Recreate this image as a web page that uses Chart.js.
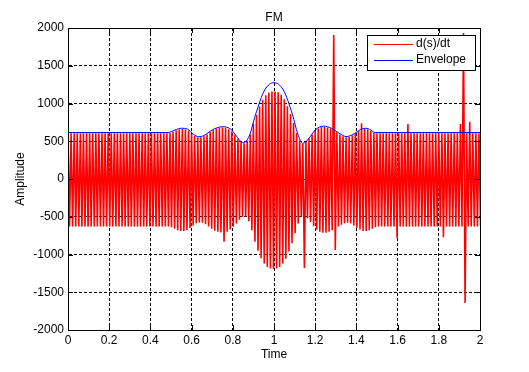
<!DOCTYPE html>
<html>
<head>
<meta charset="utf-8">
<title>FM</title>
<script src="https://cdn.jsdelivr.net/npm/chart.js@4.4.0/dist/chart.umd.min.js"></script>
<style>
  html, body { margin: 0; padding: 0; background: #fff; }
  canvas { display: block; }
</style>
</head>
<body>
<canvas id="fmChart" width="529" height="372"></canvas>
<script>
// --- data ---
// upper peaks of d(s)/dt at t = k*peakStep, lower peaks half a step later
const peakStep = 0.015;
const redTop = [
  605, 605, 605, 605, 605, 605, 605, 605, 605, 605,
  605, 605, 605, 605, 605, 605, 605, 605, 605, 605,
  605, 605, 605, 605, 605, 605, 605, 605, 605, 605,
  605, 605, 605, 610, 625, 645, 658, 662, 655, 640,
  600, 570, 552, 552, 565, 590, 625, 650, 670, 680,
  683, 678, 660, 630, 585, 535, 485, 472, 505, 590,
  730, 850, 960, 1050, 1110, 1145, 1160, 1160, 1150, 1115,
  1055, 965, 860, 740, 610, 510, 462, 490, 535, 590,
  640, 670, 687, 690, 682, 668, 1907, 620, 590, 565,
  552, 558, 580, 605, 635, 737, 662, 658, 640, 612,
  605, 605, 605, 605, 605, 605, 605, 605, 605, 605,
  728, 605, 605, 605, 605, 605, 605, 605, 605, 605,
  605, 605, 605, 605, 605, 605, 605, 728, 1935, 605,
  759, 605, 605, 605
];
const redBottom = [
  -630, -630, -630, -630, -630, -630, -630, -630, -630, -630,
  -630, -630, -630, -630, -630, -630, -630, -630, -630, -630,
  -630, -630, -630, -630, -630, -630, -630, -630, -630, -630,
  -630, -630, -630, -640, -660, -680, -690, -690, -675, -650,
  -615, -585, -575, -580, -600, -630, -660, -685, -700, -710,
  -830, -700, -670, -630, -590, -540, -500, -500, -560, -680,
  -830, -950, -1050, -1120, -1165, -1185, -1192, -1185, -1165, -1120,
  -1055, -960, -850, -720, -590, -500, -1180, -520, -570, -625,
  -670, -700, -712, -712, -700, -680, -940, -630, -605, -585,
  -578, -590, -615, -645, -670, -688, -690, -680, -660, -640,
  -630, -630, -630, -630, -630, -630, -781, -630, -630, -630,
  -630, -630, -630, -630, -630, -630, -630, -630, -630, -630,
  -630, -770, -630, -630, -630, -630, -630, -630, -1642, -630,
  -630, -630, -630, -630
];

const envTime = [0, 0.48, 0.50, 0.52, 0.55, 0.58, 0.61, 0.635, 0.66, 0.70, 0.75, 0.79, 0.82, 0.85,
  0.88, 0.91, 0.955, 1.0, 1.045, 1.09, 1.115, 1.14, 1.17, 1.20, 1.24, 1.28, 1.32, 1.35,
  1.39, 1.42, 1.445, 1.47, 1.49, 2.0];
const envValue = [615, 615, 625, 650, 672, 660, 590, 560, 575, 650, 693, 660, 560, 480,
  570, 850, 1180, 1275, 1180, 850, 600, 472, 540, 650, 700, 670, 600, 562,
  600, 655, 672, 650, 615, 615];

const xTicks = [0, 0.2, 0.4, 0.6, 0.8, 1, 1.2, 1.4, 1.6, 1.8, 2];
const yTicks = [-2000, -1500, -1000, -500, 0, 500, 1000, 1500, 2000];
const seriesNames = ["d(s)/dt", "Envelope"];

// zigzag from the peaks
const redPoints = [];
redTop.forEach((v, k) => {
  redPoints.push({ x: k * peakStep, y: v });
  redPoints.push({ x: k * peakStep + peakStep / 2, y: redBottom[k] });
});
const envPoints = envTime.map((t, i) => ({ x: t, y: envValue[i] }));

const FONT = "'Liberation Sans', Arial, sans-serif";
const plain = v => String(v);

// frame, inward ticks, title and legend in matlab style
const matlabBits = {
  id: "matlabBits",
  afterDraw(chart) {
    const { ctx, chartArea: a, scales } = chart;
    ctx.save();
    ctx.strokeStyle = "#000";
    ctx.lineWidth = 1;
    ctx.strokeRect(Math.round(a.left) + 0.5, Math.round(a.top) + 0.5,
      Math.round(a.right - a.left), Math.round(a.bottom - a.top));

    ctx.beginPath();
    xTicks.forEach(t => {
      const px = Math.round(scales.x.getPixelForValue(t)) + 0.5;
      ctx.moveTo(px, a.bottom); ctx.lineTo(px, a.bottom - 5);
      ctx.moveTo(px, a.top); ctx.lineTo(px, a.top + 5);
    });
    yTicks.forEach(t => {
      const py = Math.round(scales.y.getPixelForValue(t)) + 0.5;
      ctx.moveTo(a.left, py); ctx.lineTo(a.left + 5, py);
      ctx.moveTo(a.right, py); ctx.lineTo(a.right - 5, py);
    });
    ctx.stroke();

    // title
    ctx.fillStyle = "#000";
    ctx.font = "12px " + FONT;
    ctx.textAlign = "center";
    ctx.textBaseline = "middle";
    ctx.fillText("FM", (a.left + a.right) / 2, 18);

    // legend
    const lx = 367, ly = 35, lw = 108, lh = 35;
    ctx.fillStyle = "#fff";
    ctx.fillRect(lx, ly, lw, lh);
    ctx.strokeRect(lx + 0.5, ly + 0.5, lw, lh);
    const colors = ["#ff0000", "#0000ff"];
    seriesNames.forEach((name, i) => {
      const yy = ly + 9 + i * 16;
      ctx.strokeStyle = colors[i];
      ctx.beginPath();
      ctx.moveTo(374, yy + 0.5); ctx.lineTo(413, yy + 0.5);
      ctx.stroke();
      ctx.fillStyle = "#000";
      ctx.textAlign = "left";
      ctx.fillText(name, 416, yy);
    });
    ctx.restore();
  }
};

new Chart(document.getElementById("fmChart"), {
  type: "line",
  data: {
    datasets: [
      {
        label: seriesNames[1],
        data: envPoints,
        borderColor: "#0000ff",
        borderWidth: 1,
        pointRadius: 0,
        cubicInterpolationMode: "monotone",
        order: 0
      },
      {
        label: seriesNames[0],
        data: redPoints,
        borderColor: "#ff0000",
        borderWidth: 1.6,
        pointRadius: 0,
        // tiny tension keeps every zigzag segment (no pixel-column merging)
        tension: 0.000001,
        order: 1
      }
    ]
  },
  options: {
    responsive: false,
    animation: false,
    devicePixelRatio: 1,
    layout: { padding: { top: 28, right: 49, left: 0, bottom: 0 } },
    plugins: {
      legend: { display: false },
      title: { display: false },
      tooltip: { enabled: false }
    },
    scales: {
      x: {
        type: "linear",
        min: 0, max: 2,
        z: 1,
        afterFit: s => { s.height = 42; },
        afterBuildTicks: s => { s.ticks = xTicks.map(v => ({ value: v })); },
        ticks: { color: "#000", font: { family: FONT, size: 12 }, padding: 3, maxRotation: 0, callback: plain },
        grid: { color: "#000", lineWidth: 1, drawTicks: false },
        border: { color: "#000", dash: [3, 2] },
        title: { display: true, text: "Time", color: "#000", font: { family: FONT, size: 12 }, padding: { bottom: 10 } }
      },
      y: {
        min: -2000, max: 2000,
        z: 1,
        afterFit: s => { s.width = 68; },
        afterBuildTicks: s => { s.ticks = yTicks.map(v => ({ value: v })); },
        ticks: { color: "#000", font: { family: FONT, size: 12 }, padding: 4, callback: plain },
        grid: { color: "#000", lineWidth: 1, drawTicks: false },
        border: { color: "#000", dash: [3, 2] },
        title: { display: true, text: "Amplitude", color: "#000", font: { family: FONT, size: 12 }, padding: { top: 13 } }
      }
    }
  },
  plugins: [matlabBits]
});
</script>
</body>
</html>
